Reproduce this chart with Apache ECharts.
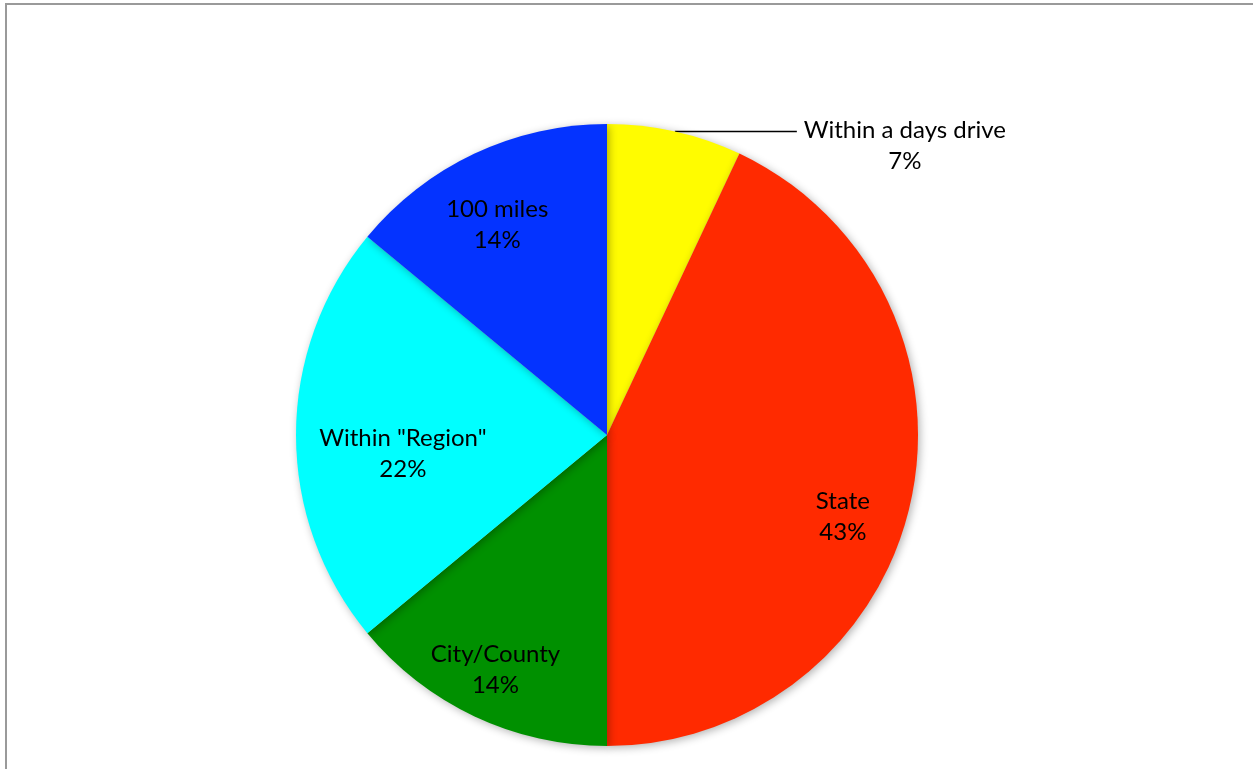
<!DOCTYPE html>
<html>
<head>
<meta charset="utf-8">
<script src="https://cdn.jsdelivr.net/npm/echarts@6/dist/echarts.min.js"></script>
<style>
  html, body { margin: 0; padding: 0; background: #fff; }
  #main { width: 1253px; height: 769px; }
</style>
</head>
<body>
<div id="main"></div>
<script>
// 数据
const categories = ["Within a days drive", "State", "City/County", 'Within "Region"', "100 miles"];
const shares = [7, 43, 14, 22, 14];
const sliceColors = ["#FFFC00", "#FF2A00", "#009000", "#00FFFF", "#0433FF"];

// 标签位置：离圆心的比例（0 表示不移动）和相对中间角度的偏移（度）
const labelRadius = [0, 0.803, 0.836, 0.659, 0.762];
const labelTurn = [0, 6.6, 0.2, -5.2, -2.4];

const center = [607, 435];
const radius = 311;
const fontFamily = "Lato, 'Open Sans', sans-serif";

const chart = echarts.init(document.getElementById("main"));

// 每块扇形的中间角度（从12点钟方向顺时针）
const total = shares.reduce((a, b) => a + b, 0);
const midAngles = [];
let acc = 0;
shares.forEach((v) => {
  midAngles.push(((acc + v / 2) / total) * 360);
  acc += v;
});

const data = categories.map((name, i) => {
  const item = { name: name, value: shares[i], itemStyle: { color: sliceColors[i] } };
  if (i === 0) {
    item.label = {
      position: "outside",
      formatter: "{t|{b}}\n{t|{c}%}",
      padding: [29, 0, 0, 0],
      rich: { t: { width: 206, align: "center", fontSize: 24, lineHeight: 31, fontFamily: fontFamily, color: "#000" } },
    };
    item.labelLine = { show: true, length: 0, length2: 122, lineStyle: { color: "#000", width: 1.5 } };
  }
  return item;
});

chart.setOption({
  backgroundColor: "#fff",
  animation: false,
  graphic: [
    {
      type: "rect",
      shape: { x: 6, y: 4, width: 1300, height: 900 },
      style: { fill: "none", stroke: "#9a9a9a", lineWidth: 2 },
      z: 100,
    },
  ],
  series: [
    {
      type: "pie",
      center: center,
      radius: radius,
      startAngle: 90,
      clockwise: true,
      avoidLabelOverlap: false,
      data: data,
      itemStyle: {
        shadowBlur: 8,
        shadowColor: "rgba(0,0,0,0.3)",
        shadowOffsetX: 2,
        shadowOffsetY: 2,
      },
      label: {
        position: "inside",
        formatter: "{b}\n{c}%",
        fontSize: 24,
        lineHeight: 31,
        fontFamily: fontFamily,
        color: "#000",
      },
      labelLine: { show: false },
      labelLayout: function (params) {
        const i = params.dataIndex;
        if (!labelRadius[i]) return {};
        const a = ((midAngles[i] + labelTurn[i]) * Math.PI) / 180;
        return {
          x: center[0] + Math.sin(a) * radius * labelRadius[i],
          y: center[1] - Math.cos(a) * radius * labelRadius[i],
          align: "center",
          verticalAlign: "middle",
        };
      },
    },
  ],
});
</script>
</body>
</html>
